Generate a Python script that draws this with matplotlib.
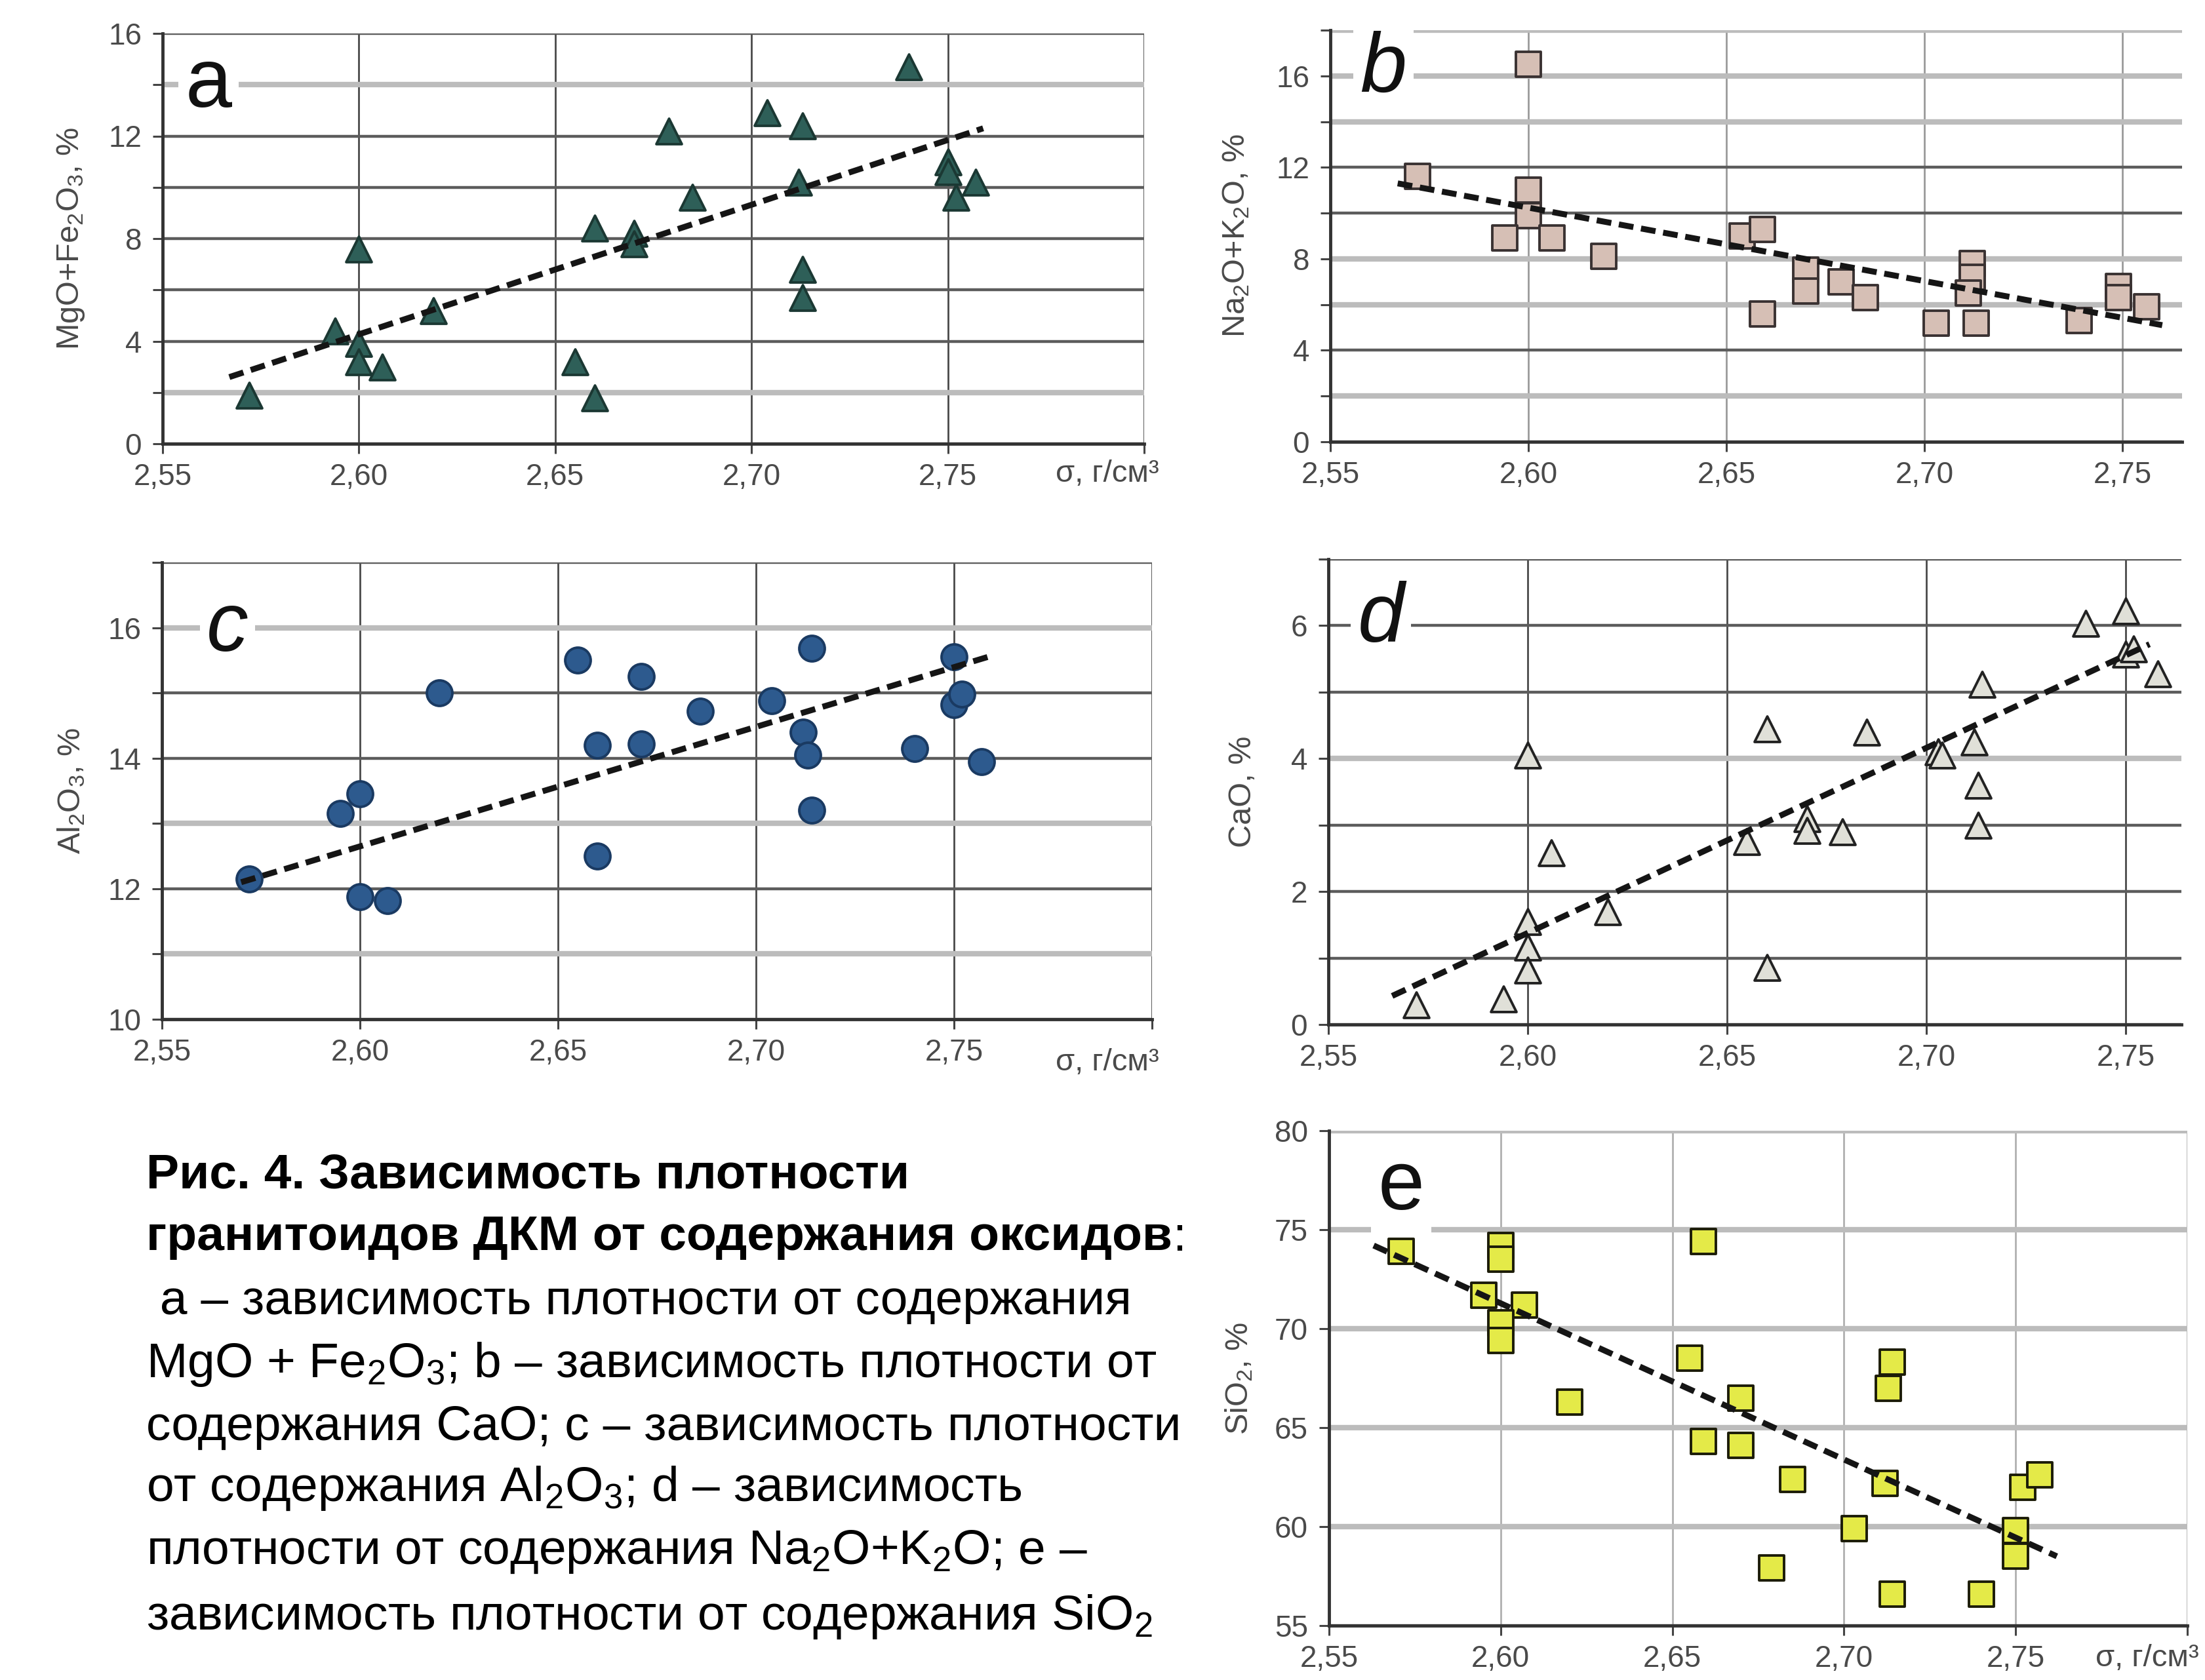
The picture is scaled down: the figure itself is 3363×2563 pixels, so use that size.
import numpy as np
import matplotlib
matplotlib.use('Agg')
import matplotlib.pyplot as plt

plt.rcParams['font.family'] = ['Liberation Sans', 'DejaVu Sans']
plt.rcParams['mathtext.fontset'] = 'custom'
plt.rcParams['mathtext.rm'] = 'Liberation Sans'
plt.rcParams['mathtext.it'] = 'Liberation Sans:italic'
plt.rcParams['mathtext.bf'] = 'Liberation Sans:bold'

# ---- data ----
# a: MgO+Fe2O3
xa = [2.572, 2.594, 2.600, 2.600, 2.600, 2.606, 2.619, 2.655, 2.660, 2.660, 2.670, 2.670,
      2.679, 2.685, 2.704, 2.713, 2.712, 2.713, 2.713, 2.740, 2.750, 2.750, 2.752, 2.757]
ya = [1.9, 4.4, 7.6, 3.9, 3.2, 3.0, 5.2, 3.2, 1.8, 8.4, 8.2, 7.8,
      12.2, 9.6, 12.9, 12.4, 10.2, 6.8, 5.7, 14.7, 11.0, 10.6, 9.6, 10.2]
trend_a = ([2.567, 2.759], [2.6, 12.3])

# b: Na2O+K2O
xb = [2.572, 2.600, 2.600, 2.600, 2.594, 2.606, 2.619, 2.654, 2.659, 2.659, 2.670, 2.670,
      2.679, 2.685, 2.703, 2.712, 2.712, 2.711, 2.713, 2.739, 2.749, 2.749, 2.756]
yb = [11.6, 16.5, 11.0, 9.9, 8.9, 8.9, 8.1, 9.0, 9.3, 5.6, 7.5, 6.6,
      7.0, 6.3, 5.2, 7.8, 7.2, 6.5, 5.2, 5.3, 6.8, 6.3, 5.9]
trend_b = ([2.567, 2.760], [11.3, 5.1])

# c: Al2O3
xc = [2.572, 2.595, 2.600, 2.600, 2.607, 2.620, 2.655, 2.660, 2.660, 2.671, 2.671,
      2.686, 2.704, 2.712, 2.713, 2.714, 2.714, 2.740, 2.750, 2.750, 2.752, 2.757]
yc = [12.15, 13.15, 13.45, 11.88, 11.82, 15.0, 15.5, 14.2, 12.5, 15.25, 14.22,
      14.72, 14.88, 14.4, 14.05, 15.68, 13.2, 14.15, 15.55, 14.82, 14.98, 13.95]
trend_c = ([2.570, 2.759], [12.1, 15.56])

# d: CaO
xd = [2.572, 2.594, 2.600, 2.600, 2.600, 2.600, 2.606, 2.620, 2.655, 2.660, 2.660,
      2.670, 2.670, 2.679, 2.685, 2.703, 2.704, 2.712, 2.714, 2.713, 2.713,
      2.740, 2.750, 2.750, 2.752, 2.758]
yd = [0.30, 0.38, 4.05, 1.55, 1.16, 0.82, 2.58, 1.70, 2.75, 4.45, 0.86,
      3.1, 2.92, 2.9, 4.4, 4.1, 4.05, 4.25, 5.12, 3.6, 3.0,
      6.03, 6.22, 5.57, 5.65, 5.27]
trend_d = ([2.566, 2.756], [0.43, 5.72])

# e: SiO2
xe = [2.571, 2.600, 2.600, 2.595, 2.607, 2.600, 2.600, 2.620, 2.659, 2.655, 2.659,
      2.670, 2.670, 2.679, 2.685, 2.703, 2.713, 2.714, 2.712, 2.714, 2.740,
      2.750, 2.750, 2.752, 2.757]
ye = [73.9, 74.2, 73.5, 71.7, 71.2, 70.3, 69.4, 66.3, 74.4, 68.5, 64.3,
      66.5, 64.1, 57.9, 62.4, 59.9, 67.0, 68.3, 62.2, 56.6, 56.6,
      59.8, 58.5, 62.0, 62.6]
trend_e = ([2.563, 2.762], [74.2, 58.5])

x_tick_vals = [2.55, 2.60, 2.65, 2.70, 2.75, 2.80]
x_tick_text = ['2,55', '2,60', '2,65', '2,70', '2,75', '']

caption = [
    (r'Рис. 4. Зависимость плотности', 'bold'),
    (r'гранитоидов ДКМ от содержания оксидов', 'bold'),
    (r' a – зависимость плотности от содержания', 'normal'),
    (r'MgO + Fe$_2$O$_3$; b – зависимость плотности от', 'normal'),
    (r'содержания CaO; c – зависимость плотности', 'normal'),
    (r'от содержания Al$_2$O$_3$; d – зависимость', 'normal'),
    (r'плотности от содержания Na$_2$O+K$_2$O; e –', 'normal'),
    (r'зависимость плотности от содержания SiO$_2$', 'normal'),
]

W, H = 3363, 2563
fig = plt.figure(figsize=(W / 100, H / 100), dpi=100)


def box(l, t, r, b):
    return [l / W, 1 - b / H, (r - l) / W, (b - t) / H]


def panel(px, x, y, trend, xmax, ylim, ystep, ylabeled, light, marker, fc, ec,
          letter, italic, letter_px, ylabel, ylab_dx, vgrid_col, sigma_px=None):
    l, t, r, b = px
    ax = fig.add_axes(box(l, t, r, b))
    ax.set_xlim(2.55, xmax)
    ax.set_ylim(*ylim)
    yv = np.arange(ylim[0], ylim[1] + 1e-9, ystep)
    ax.set_yticks(yv)
    ax.set_yticklabels([('%g' % v) if any(abs(v - q) < 1e-9 for q in ylabeled) else '' for v in yv])
    xs = [v for v in x_tick_vals if v <= xmax + 1e-9]
    ax.set_xticks(xs)
    ax.set_xticklabels(x_tick_text[:len(xs)])
    ax.set_axisbelow(True)
    ax.grid(True, axis='y')
    ax.grid(True, axis='x', color=vgrid_col, lw=2.0)
    for v, gl in zip(yv, ax.get_ygridlines()):
        if any(abs(v - q) < 1e-9 for q in light):
            gl.set_color('#bcbcbc'); gl.set_linewidth(6)
        else:
            gl.set_color('#5c5c5c'); gl.set_linewidth(3.2)
    for s in ['top', 'right']:
        ax.spines[s].set_visible(False)
    for s in ['left', 'bottom']:
        ax.spines[s].set_color('#333333')
        ax.spines[s].set_linewidth(3.5)
    ax.tick_params(axis='both', direction='out', length=11, width=2.2, color='#444444',
                   labelsize=33, labelcolor='#4a4a4a')
    ax.tick_params(axis='y', pad=12)
    ax.tick_params(axis='x', pad=10)

    ax.scatter(x, y, s=28 ** 2, marker=marker, c=fc, edgecolors=ec, linewidths=2.8, zorder=4)
    ax.plot(trend[0], trend[1], ls=(0, (2.5, 1.3)), lw=6.5, color='#151515', zorder=5)

    lx = (letter_px[0] - l) / (r - l)
    ly = (b - letter_px[1]) / (b - t)
    ax.text(lx, ly, letter, transform=ax.transAxes, fontsize=92,
            style='italic' if italic else 'normal', ha='center', va='center',
            color='#111111', zorder=3,
            bbox=dict(boxstyle='square,pad=0.08', fc='white', ec='none'))

    ax.set_ylabel(ylabel, fontsize=35, color='#4a4a4a')
    ax.yaxis.set_label_coords(-ylab_dx / (r - l), 0.5)

    if sigma_px is not None:
        fig.text(sigma_px[0] / W, 1 - sigma_px[1] / H, 'σ, г/см³', fontsize=34,
                 color='#4a4a4a', ha='left', va='center')
    return ax


panel((248, 51, 1745, 677), xa, ya, trend_a, 2.80, (0, 16), 2, [0, 4, 8, 12, 16], [2, 14],
      '^', '#2e5f58', '#1b3833', 'a', False, (318, 130), 'MgO+Fe$_2$O$_3$, %', 116,
      '#4a4a4a', sigma_px=(1610, 723))

panel((2029, 46, 3328, 674), xb, yb, trend_b, 2.765, (0, 18), 2, [0, 4, 8, 12, 16],
      [2, 6, 8, 14, 16, 18], 's', '#d6bfb5', '#3a3232', 'b', True, (2110, 107),
      'Na$_2$O+K$_2$O, %', 121, '#9a9a9a')

panel((247, 858, 1757, 1555), xc, yc, trend_c, 2.80, (10, 17), 1, [10, 12, 14, 16], [11, 13, 16],
      'o', '#2d5a8e', '#1a3a62', 'c', True, (347, 960), 'Al$_2$O$_3$, %', 115,
      '#4a4a4a', sigma_px=(1610, 1621))

panel((2026, 853, 3327, 1563), xd, yd, trend_d, 2.764, (0, 7), 1, [0, 2, 4, 6], [4],
      '^', '#e0e0d8', '#222222', 'd', True, (2106, 946), 'CaO, %', 108, '#4a4a4a')

panel((2027, 1725, 3336, 2480), xe, ye, trend_e, 2.80, (55, 80), 5, [55, 60, 65, 70, 75, 80],
      [60, 65, 70, 75, 80], 's', '#e4ea48', '#1c1c08', 'e', False, (2137, 1812), 'SiO$_2$, %', 114,
      '#b0b0b0', sigma_px=(3196, 2530))

# caption
renderer = fig.canvas.get_renderer()
cap_y = [1793, 1888, 1986, 2081, 2177, 2271, 2368, 2467]
for (txt, wt), yy in zip(caption, cap_y):
    t = fig.text(223 / W, 1 - yy / H, txt, fontsize=54, fontweight=wt, ha='left', va='center',
                 color='black')
    if txt.startswith('гранитоидов'):
        bb = t.get_window_extent(renderer)
        fig.text(bb.x1 / W, 1 - yy / H, ':', fontsize=54, ha='left', va='center', color='black')

fig.savefig('out.png', dpi=100, facecolor='white')
